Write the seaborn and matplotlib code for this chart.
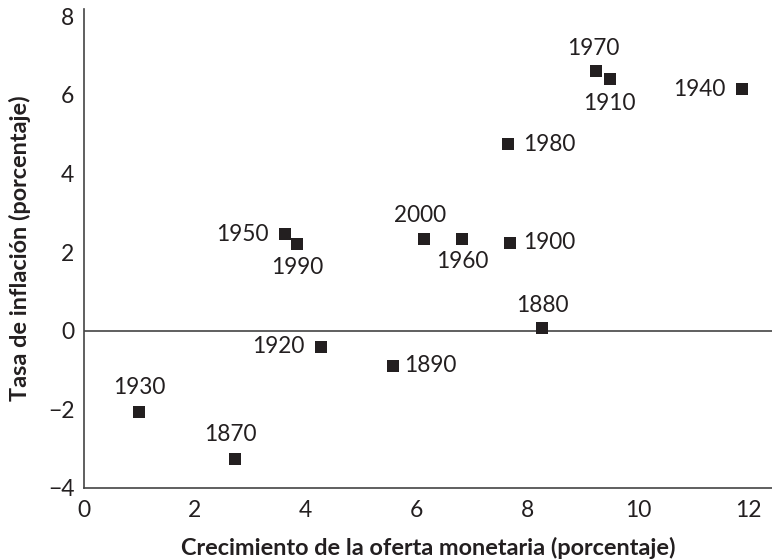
import pandas as pd
import seaborn as sns
import matplotlib.pyplot as plt

# datos
anios = ["1870", "1880", "1890", "1900", "1910", "1920", "1930", "1940",
         "1950", "1960", "1970", "1980", "1990", "2000"]
crec_dinero = [2.73, 8.27, 5.57, 7.69, 9.49, 4.28, 0.99, 11.87,
               3.63, 6.83, 9.24, 7.66, 3.85, 6.13]
inflacion = [-3.26, 0.07, -0.89, 2.24, 6.40, -0.41, -2.07, 6.14,
             2.46, 2.33, 6.61, 4.74, 2.21, 2.33]

# posición de cada etiqueta respecto al punto (dx, dy en px, alineación)
pos_etiqueta = {
    "1870": (-5, 24, "center"), "1880": (0, 22, "center"),
    "1890": (12, 0, "left"), "1900": (13, 0, "left"),
    "1910": (0, -24, "center"), "1920": (-17, 0, "right"),
    "1930": (0, 24, "center"), "1940": (-16, 0, "right"),
    "1950": (-16, 0, "right"), "1960": (0, -22, "center"),
    "1970": (-3, 23, "center"), "1980": (15, 0, "left"),
    "1990": (0, -24, "center"), "2000": (-4, 24, "center"),
}

df = pd.DataFrame({"anio": anios, "dinero": crec_dinero, "inflacion": inflacion})

sns.set_style("white")
plt.rcParams['font.family'] = ['Lato', 'DejaVu Sans']

color = "#231f20"
fig = plt.figure(figsize=(7.72, 5.59), dpi=100)
ax = fig.add_axes([0.1088, 0.1276, 0.8912, 0.857])

sns.scatterplot(data=df, x="dinero", y="inflacion", marker="s", s=64,
                color=color, linewidth=0, ax=ax, zorder=3)

ax.axhline(0, color="#444444", lw=1.2, zorder=1)

for a, x, y in zip(anios, crec_dinero, inflacion):
    dx, dy, ha = pos_etiqueta[a]
    ax.annotate(a, (x, y), xytext=(dx * 0.72, dy * 0.72), textcoords="offset points",
                ha=ha, va="center", fontsize=16.3, color=color)

ax.set_xlim(0, 12.42)
ax.set_ylim(-4, 8.2)
ax.set_xticks(range(0, 13, 2))
ax.set_yticks(range(-4, 9, 2))
ax.set_yticklabels(["\u22124", "\u22122", "0", "2", "4", "6", "8"])

for s in ["top", "right"]:
    ax.spines[s].set_visible(False)
for s in ["left", "bottom"]:
    ax.spines[s].set_color("#444444")
    ax.spines[s].set_linewidth(1.2)

ax.tick_params(direction="in", length=11, width=1.2, color="#444444",
               labelsize=16.5, labelcolor=color, pad=7)
ax.tick_params(axis="x", pad=9)

ax.set_xlabel("Crecimiento de la oferta monetaria (porcentaje)", fontsize=16.9,
              fontweight="bold", color=color, labelpad=11)
ax.set_ylabel("Tasa de inflación (porcentaje)", fontsize=16.9,
              fontweight="bold", color=color, labelpad=12)

fig.savefig("out.png", dpi=100)
